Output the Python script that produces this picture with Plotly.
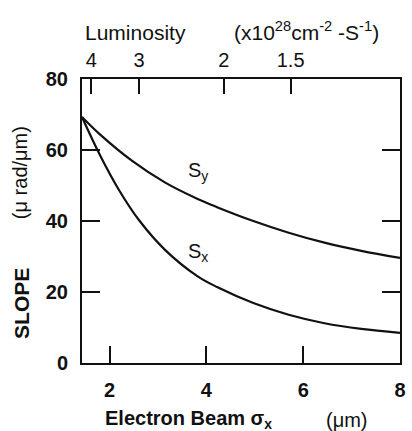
import plotly.graph_objects as go

# Electron beam sigma_x (um) and slopes (urad/um)
sigma_x_sy = [1.43, 1.8, 2.46, 3.15, 3.82, 4.22, 4.97, 5.70, 6.44, 7.2, 8.0]
slope_sy = [69.3, 64.4, 57.0, 50.8, 46.2, 43.9, 40.0, 36.7, 33.9, 31.6, 29.6]
sigma_x_sx = [1.43, 1.8, 2.2, 2.61, 3.15, 3.82, 4.22, 4.97, 5.70, 6.44, 7.2, 8.0]
slope_sx = [69.3, 58.6, 48.6, 40.2, 31.8, 24.4, 21.4, 16.9, 13.6, 11.2, 9.6, 8.5]

x_ticks = [2, 4, 6, 8]
y_ticks = [0, 20, 40, 60, 80]
lum_labels = ["4", "3", "2", "1.5"]
lum_positions = [1.62, 2.61, 4.36, 5.74]

FONT = "Liberation Sans, Arial, Helvetica, sans-serif"
BLACK = "#111111"

fig = go.Figure()
fig.add_trace(go.Scatter(x=sigma_x_sy, y=slope_sy, mode="lines", line=dict(color=BLACK, width=2.2, shape="spline"), showlegend=False))
fig.add_trace(go.Scatter(x=sigma_x_sx, y=slope_sx, mode="lines", line=dict(color=BLACK, width=2.2, shape="spline"), showlegend=False))
# invisible trace to activate top axis
fig.add_trace(go.Scatter(x=[sigma_x_sy[0]], y=[slope_sy[0]], xaxis="x2", mode="markers", marker=dict(opacity=0), showlegend=False, hoverinfo="skip"))

def ann(text, x, y, size, bold=False, angle=0, ref="paper"):
    return dict(text=text, x=x, y=y, xref="x" if ref == "data" else "paper", yref="y" if ref == "data" else "paper",
                xanchor="center", yanchor="middle", showarrow=False, textangle=angle,
                font=dict(size=size, family=FONT, color=BLACK, weight="bold" if bold else "normal"))

fig.update_layout(
    width=412, height=431,
    margin=dict(l=82, r=6, t=79, b=68),
    paper_bgcolor="white", plot_bgcolor="white",
    font=dict(family=FONT, color=BLACK),
    xaxis=dict(range=[1.43, 8.0], tickvals=x_ticks, ticks="inside", ticklen=17, tickwidth=1.5, tickcolor=BLACK,
               showline=True, linewidth=2, linecolor=BLACK, mirror=True, showgrid=False, zeroline=False,
               ticklabelstandoff=8, tickfont=dict(size=20, family=FONT, weight="bold")),
    xaxis2=dict(range=[1.43, 8.0], overlaying="x", side="top", tickvals=lum_positions, ticktext=lum_labels,
                ticks="inside", ticklen=15, tickwidth=1.5, tickcolor=BLACK, showgrid=False, zeroline=False,
                showline=False, ticklabelstandoff=7, tickfont=dict(size=20, family=FONT)),
    yaxis=dict(range=[0, 80], tickvals=y_ticks, ticks="inside", ticklen=18, tickwidth=1.5, tickcolor=BLACK,
               showline=True, linewidth=2, linecolor=BLACK, mirror="ticks", showgrid=False, zeroline=False,
               ticklabelstandoff=8, tickfont=dict(size=20, family=FONT, weight="bold")),
    annotations=[
        ann("S<sub>y</sub>", 3.82, 54, 20, ref="data"),
        ann("S<sub>x</sub>", 3.82, 31, 20, ref="data"),
        ann("Luminosity", 0.167, 1.165, 21),
        ann("(x10<sup>28</sup>cm<sup>-2</sup> -S<sup>-1</sup>)", 0.707, 1.17, 21),
        ann("Electron Beam σ<sub>x</sub>", 0.335, -0.20, 20, bold=True),
        ann("(μm)", 0.833, -0.20, 20),
        ann("SLOPE", -0.19, 0.21, 21, bold=True, angle=-90),
        ann("(μ rad/μm)", -0.195, 0.672, 20, angle=-90),
    ],
)

fig.write_html("out.html", config={"displayModeBar": False},
               post_script="document.body.style.margin='0';")
